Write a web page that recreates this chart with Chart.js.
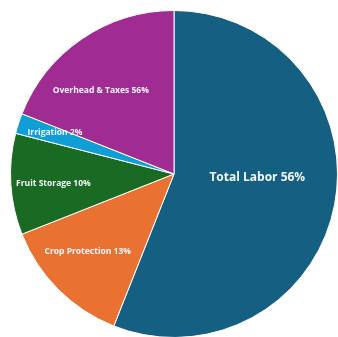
<!DOCTYPE html>
<html>
<head>
<meta charset="utf-8">
<script src="https://cdn.jsdelivr.net/npm/chart.js@4/dist/chart.umd.min.js"></script>
<style>
  html, body { margin:0; padding:0; background:#fff; overflow:hidden; width:338px; height:337px; }
  #wrap { position:relative; width:348px; height:348px; }
</style>
</head>
<body>
<div id="wrap"><canvas id="pie" width="348" height="348"></canvas></div>
<script>
// categories and values (percent of total cost)
const categories = ['Total Labor', 'Crop Protection', 'Fruit Storage', 'Irrigation', 'Overhead & Taxes'];
const shares = [56, 13, 10, 2, 19];
// label text as printed on the original slices
const labelText = ['Total Labor 56%', 'Crop Protection 13%', 'Fruit Storage 10%', 'Irrigation 2%', 'Overhead & Taxes 56%'];
const sliceColors = ['#156082', '#E97132', '#196B24', '#0F9ED5', '#A02B93'];

// label placement: fraction of radius, angle shift (deg) from slice middle
const labelRadius = [0.51, 0.71, 0.74, 0.77, 0.68];
const labelShift = [-8, 3, -1, 1, -7];
const labelSize = [12, 8.5, 8.5, 8.5, 8.5];

const sliceLabels = {
  id: 'sliceLabels',
  afterDatasetsDraw(chart) {
    const ctx = chart.ctx;
    const arcs = chart.getDatasetMeta(0).data;
    ctx.save();
    ctx.fillStyle = '#f4f8fb';
    ctx.textAlign = 'center';
    ctx.textBaseline = 'middle';
    arcs.forEach((arc, i) => {
      const p = arc.getProps(['x', 'y', 'startAngle', 'endAngle', 'outerRadius'], true);
      const a = (p.startAngle + p.endAngle) / 2 + labelShift[i] * Math.PI / 180;
      const r = p.outerRadius * labelRadius[i];
      ctx.font = 'bold ' + labelSize[i] + 'px "Open Sans", Lato, sans-serif';
      ctx.fillText(labelText[i], p.x + Math.cos(a) * r, p.y + Math.sin(a) * r);
    });
    ctx.restore();
  }
};

new Chart(document.getElementById('pie').getContext('2d'), {
  type: 'pie',
  data: {
    labels: categories,
    datasets: [{
      data: shares,
      backgroundColor: sliceColors,
      borderColor: '#ffffff',
      borderWidth: 1
    }]
  },
  options: {
    responsive: false,
    animation: false,
    layout: { padding: { left: 9, right: 9, top: 10, bottom: 10 } },
    plugins: {
      legend: { display: false },
      tooltip: { enabled: false }
    }
  },
  plugins: [sliceLabels]
});
</script>
</body>
</html>
